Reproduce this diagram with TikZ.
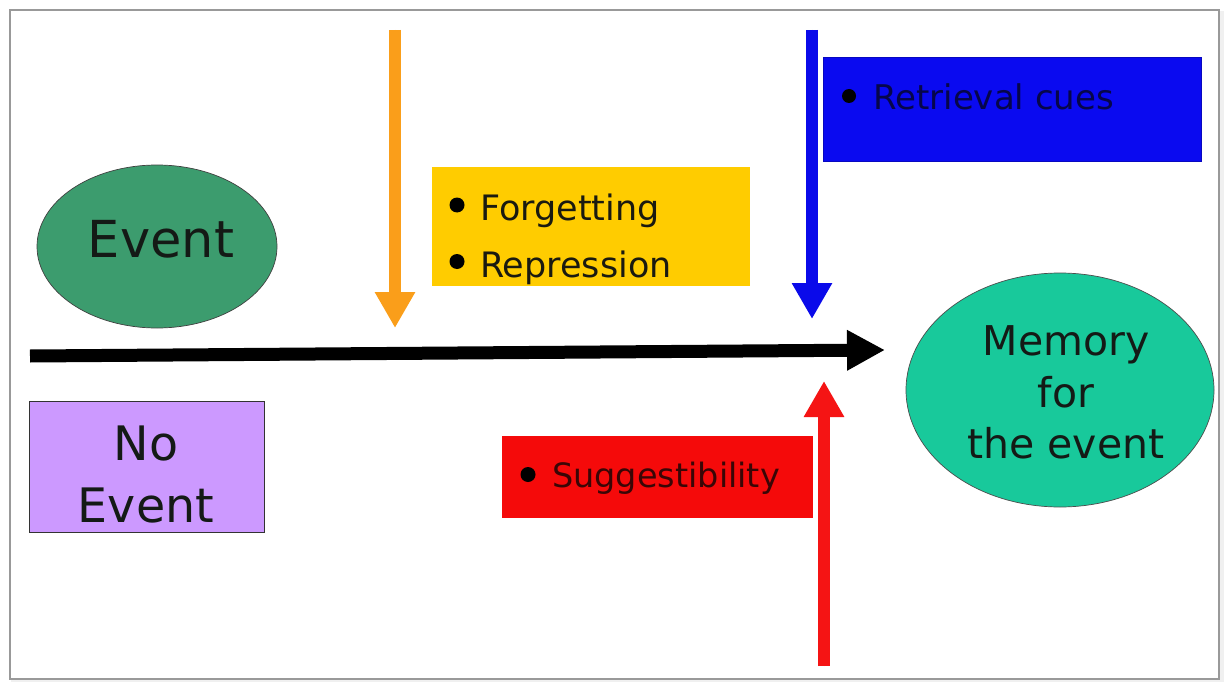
\documentclass[tikz,border=0pt]{standalone}
\usepackage{fontspec}
\setmainfont{DejaVu Sans}
\usetikzlibrary{arrows.meta,shapes.geometric}
\definecolor{evgreen}{HTML}{3C9C6E}
\definecolor{memgreen}{HTML}{18C99B}
\definecolor{lilac}{HTML}{CC99FF}
\definecolor{ybox}{HTML}{FFCC00}
\definecolor{bbox}{HTML}{0A0AF0}
\definecolor{rbox}{HTML}{F50A0A}
\definecolor{orarrow}{HTML}{FA9E1A}
\definecolor{blarrow}{HTML}{0A0AEA}
\definecolor{rdarrow}{HTML}{F51414}
\definecolor{txt}{HTML}{141A16}
\definecolor{ytxt}{HTML}{1A1A10}
\definecolor{rtxt}{HTML}{3A0606}
\definecolor{btxt}{HTML}{06064A}
\tikzset{
  bigarrow/.style={line width=12pt, -{Triangle[length=36pt,width=38pt]}},
  boxtxt/.style={anchor=base west, inner sep=0pt},
  bigtxt/.style={text=txt, anchor=base, inner sep=0pt},
  bulletdot/.style={fill=black, circle, inner sep=0pt, minimum size=15pt}
}
\begin{document}
\begin{tikzpicture}[x=1pt,y=-1pt]
\useasboundingbox (0,0) rectangle (1226,682);
\fill[white] (0,0) rectangle (1226,682);
% frame with soft shadow
\fill[black!12] (13,13) rectangle (1223,682);
\fill[black!6] (11,11) rectangle (1224,682);
\draw[black!40, line width=1.2pt, fill=white] (10,10) rectangle (1219,679);

% boxes
\fill[ybox] (432,167) rectangle (750,286);
\draw[bbox!80!black, line width=0.6pt, fill=bbox] (823,57) rectangle (1201,161);
\fill[rbox] (502,436) rectangle (813,518);
\draw[black!80, line width=0.8pt, fill=lilac] (29,401) rectangle (264,532);

\node[ellipse, fill=evgreen, draw=black!75, line width=0.7pt, minimum width=240pt, minimum height=163pt, inner sep=0pt] (event) at (157,246.5) {};
\node[ellipse, fill=memgreen, draw=black!70, line width=0.7pt, minimum width=308pt, minimum height=234pt, inner sep=0pt] (memory) at (1060,390) {};

% texts
\node[bigtxt, font=\fontsize{51}{56}\selectfont] (tevent) at (161,257) {Event};
\node[bigtxt, font=\fontsize{47.5}{56}\selectfont] (tno) at (146,460) {No};
\node[bigtxt, font=\fontsize{47.5}{56}\selectfont] (tnoev) at (146,522) {Event};
\node[bigtxt, font=\fontsize{41}{50}\selectfont] (tmem1) at (1066,355) {Memory};
\node[bigtxt, font=\fontsize{41}{50}\selectfont] (tmem2) at (1066,407) {for};
\node[bigtxt, font=\fontsize{41}{50}\selectfont] (tmem3) at (1066,458) {the event};

\node[bulletdot] (b1) at (457,205) {};
\node[boxtxt, text=ytxt, font=\fontsize{35}{40}\selectfont] (tforg) at (480,220) {Forgetting};
\node[bulletdot] (b2) at (457,261.5) {};
\node[boxtxt, text=ytxt, font=\fontsize{35}{40}\selectfont] (trep) at (480,277) {Repression};
\node[bulletdot, minimum size=14pt] (b3) at (849,96) {};
\node[boxtxt, text=btxt, font=\fontsize{34}{40}\selectfont] (tret) at (873,110) {Retrieval cues};
\node[bulletdot, minimum size=15pt] (b4) at (528,474.5) {};
\node[boxtxt, text=rtxt, font=\fontsize{33.5}{40}\selectfont] (tsug) at (552,487) {Suggestibility};

% arrows
\coordinate (orTop) at (395,30);
\coordinate (orTip) at (395,328);
\coordinate (blTop) at (812,30);
\coordinate (blTip) at (812,319);
\coordinate (rdBot) at (824,666);
\coordinate (rdTip) at (824,381);
\coordinate (mainStart) at (30,356);
\coordinate (mainTip) at (885,350);
\draw[bigarrow, draw=orarrow, fill=orarrow] (orTop) -- (orTip);
\draw[bigarrow, draw=blarrow, fill=blarrow] (blTop) -- (blTip);
\draw[bigarrow, draw=rdarrow, fill=rdarrow] (rdBot) -- (rdTip);
\draw[line width=13pt, black, -{Triangle[length=38pt,width=38pt]}] (mainStart) -- (mainTip);
\end{tikzpicture}
\end{document}
